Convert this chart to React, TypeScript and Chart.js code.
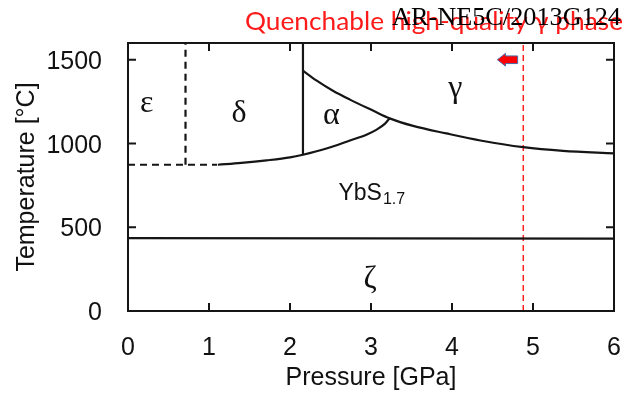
import React, { useEffect, useRef } from "react";
import { Chart, registerables } from "chart.js";
Chart.register(...registerables);

// ---- axis definitions ----
const xTicks = [0, 1, 2, 3, 4, 5, 6];
const yTicks = [0, 500, 1000, 1500];
const xMin = 0, xMax = 6;
const yMin = 0, yMax = 1600;

// ---- phase boundaries (Pressure GPa, Temperature °C) ----
const epsDeltaP = [0.71, 0.71];
const epsDeltaT = [873, 1600];

const lowDashP = [0, 1.1];
const lowDashT = [873, 873];

const lowerSolidP = [1.11, 1.4, 1.71, 2.0, 2.16, 2.45, 2.74, 2.95, 3.07, 3.17, 3.23];
const lowerSolidT = [873, 884, 899, 917, 933, 970, 1018, 1054, 1083, 1117, 1150];

const alphaLeftP = [2.16, 2.16];
const alphaLeftT = [933, 1600];

const gammaP = [2.16, 2.33, 2.53, 2.74, 3.03, 3.23, 3.52, 3.93, 4.35, 4.88, 5.37, 6];
const gammaT = [1435, 1375, 1315, 1262, 1195, 1150, 1105, 1060, 1018, 978, 956, 941];

const zetaP = [0, 6];
const zetaT = [435, 432];

const quenchP = [4.88, 4.88];
const quenchT = [0, 1600];

// ---- labels ----
const phaseNames = ["ε", "δ", "α", "γ", "ζ"];
const phaseP = [0.23, 1.37, 2.51, 4.04, 2.99];
const phaseT = [1236, 1177, 1167, 1326, 185];

const compoundMain = "YbS";
const compoundSub = "1.7";
const compoundP = 2.88;
const compoundT = 661;

const arrowP = [4.56, 4.81];
const arrowT = [1462, 1538];

const xTitle = "Pressure [GPa]";
const yTitle = "Temperature [°C]";
const redTitle = "Quenchable high-quality γ phase";
const blackTitle = "AR-NE5C/2013G124";

const toPts = (px: number[], ty: number[]) => px.map((p, i) => ({ x: p, y: ty[i] }));

const LINE = "#151515";

const decor = {
  id: "decor",
  afterDatasetsDraw(chart: any) {
    const { ctx, chartArea: a, scales } = chart;
    const x = scales.x, y = scales.y;
    ctx.save();
    // frame
    ctx.strokeStyle = LINE;
    ctx.lineWidth = 2;
    ctx.strokeRect(a.left, a.top, a.right - a.left, a.bottom - a.top);
    // inward ticks
    const tl = 8;
    ctx.beginPath();
    xTicks.forEach((v) => {
      const px = x.getPixelForValue(v);
      ctx.moveTo(px, a.bottom); ctx.lineTo(px, a.bottom - tl);
      ctx.moveTo(px, a.top); ctx.lineTo(px, a.top + tl);
    });
    yTicks.forEach((v) => {
      const py = y.getPixelForValue(v);
      ctx.moveTo(a.left, py); ctx.lineTo(a.left + tl, py);
      ctx.moveTo(a.right, py); ctx.lineTo(a.right - tl, py);
    });
    ctx.stroke();

    // tick labels
    ctx.fillStyle = "#111";
    ctx.font = "25px 'Liberation Sans', Arial, sans-serif";
    ctx.textAlign = "center";
    ctx.textBaseline = "alphabetic";
    xTicks.forEach((v) => ctx.fillText(String(v), x.getPixelForValue(v), a.bottom + 44));
    ctx.textAlign = "right";
    yTicks.forEach((v) => ctx.fillText(String(v), a.left - 26, y.getPixelForValue(v) + 9));

    // axis titles
    ctx.textAlign = "center";
    ctx.fillText(xTitle, (a.left + a.right) / 2, a.bottom + 74);
    ctx.save();
    ctx.translate(34, (a.top + a.bottom) / 2);
    ctx.rotate(-Math.PI / 2);
    ctx.fillText(yTitle, 0, 0);
    ctx.restore();

    // phase labels
    ctx.font = "32px 'Liberation Serif', 'Times New Roman', serif";
    ctx.textBaseline = "middle";
    phaseNames.forEach((n, i) => ctx.fillText(n, x.getPixelForValue(phaseP[i]), y.getPixelForValue(phaseT[i])));

    // compound label with subscript
    ctx.textBaseline = "alphabetic";
    ctx.font = "23px 'Liberation Sans', Arial, sans-serif";
    const mw = ctx.measureText(compoundMain).width;
    ctx.font = "16px 'Liberation Sans', Arial, sans-serif";
    const sw = ctx.measureText(compoundSub).width;
    const cx = x.getPixelForValue(compoundP);
    const cy = y.getPixelForValue(compoundT);
    const startX = cx - (mw + sw) / 2 + 10;
    ctx.textAlign = "left";
    ctx.font = "23px 'Liberation Sans', Arial, sans-serif";
    ctx.fillText(compoundMain, startX, cy);
    ctx.font = "16px 'Liberation Sans', Arial, sans-serif";
    ctx.fillText(compoundSub, startX + mw + 1, cy + 4);

    // red arrow
    const x0 = x.getPixelForValue(arrowP[0]);
    const x1 = x.getPixelForValue(arrowP[1]);
    const yt = y.getPixelForValue(arrowT[1]);
    const yb = y.getPixelForValue(arrowT[0]);
    const ym = (yt + yb) / 2;
    const h = yb - yt;
    const hx = x0 + (x1 - x0) * 0.4;
    ctx.beginPath();
    ctx.moveTo(x0, ym);
    ctx.lineTo(hx, yt);
    ctx.lineTo(hx, ym - h * 0.3);
    ctx.lineTo(x1, ym - h * 0.3);
    ctx.lineTo(x1, ym + h * 0.3);
    ctx.lineTo(hx, ym + h * 0.3);
    ctx.lineTo(hx, yb);
    ctx.closePath();
    ctx.fillStyle = "#ff0000";
    ctx.fill();
    ctx.strokeStyle = "#4a6aa8";
    ctx.lineWidth = 1;
    ctx.stroke();

    // titles
    ctx.textAlign = "left";
    ctx.textBaseline = "alphabetic";
    ctx.font = "25px Lato, 'Liberation Sans', sans-serif";
    const rw = ctx.measureText(redTitle).width;
    ctx.save();
    ctx.translate(245, 30);
    ctx.scale(378 / rw, 1);
    ctx.fillStyle = "#ff1a1a";
    ctx.fillText(redTitle, 0, 0);
    ctx.restore();
    ctx.font = "25px 'Liberation Serif', 'Times New Roman', serif";
    const bw = ctx.measureText(blackTitle).width;
    ctx.save();
    ctx.translate(392, 25);
    ctx.scale(229 / bw, 1);
    ctx.fillStyle = "#000";
    ctx.fillText(blackTitle, 0, 0);
    ctx.restore();

    ctx.restore();
  },
};

export default function App() {
  const ref = useRef<HTMLCanvasElement | null>(null);
  useEffect(() => {
    if (!ref.current) return;
    const base = { showLine: true, pointRadius: 0, borderColor: LINE, borderWidth: 2.2, fill: false };
    const chart = new Chart(ref.current, {
      type: "scatter",
      data: {
        datasets: [
          { ...base, label: "ε/δ", data: toPts(epsDeltaP, epsDeltaT), borderDash: [7, 5] },
          { ...base, label: "low dash", data: toPts(lowDashP, lowDashT), borderDash: [7, 5] },
          { ...base, label: "lower", data: toPts(lowerSolidP, lowerSolidT), cubicInterpolationMode: "monotone" },
          { ...base, label: "δ/α", data: toPts(alphaLeftP, alphaLeftT) },
          { ...base, label: "γ", data: toPts(gammaP, gammaT), cubicInterpolationMode: "monotone" },
          { ...base, label: "ζ", data: toPts(zetaP, zetaT) },
          { ...base, label: "quench", data: toPts(quenchP, quenchT), borderColor: "#ff2020", borderWidth: 1.5, borderDash: [6, 4] },
        ] as any,
      },
      options: {
        animation: false,
        responsive: false,
        devicePixelRatio: 1,
        layout: { padding: { left: 128, right: 27, top: 43, bottom: 85 } },
        plugins: { legend: { display: false }, tooltip: { enabled: false }, title: { display: false } },
        scales: {
          x: { type: "linear", min: xMin, max: xMax, display: false },
          y: { type: "linear", min: yMin, max: yMax, display: false },
        },
      },
      plugins: [decor],
    });
    return () => chart.destroy();
  }, []);
  return (
    <div style={{ position: "fixed", left: 0, top: 0, width: 641, height: 396, background: "#fff" }}>
      <canvas ref={ref} width={641} height={396} style={{ display: "block" }} />
    </div>
  );
}
